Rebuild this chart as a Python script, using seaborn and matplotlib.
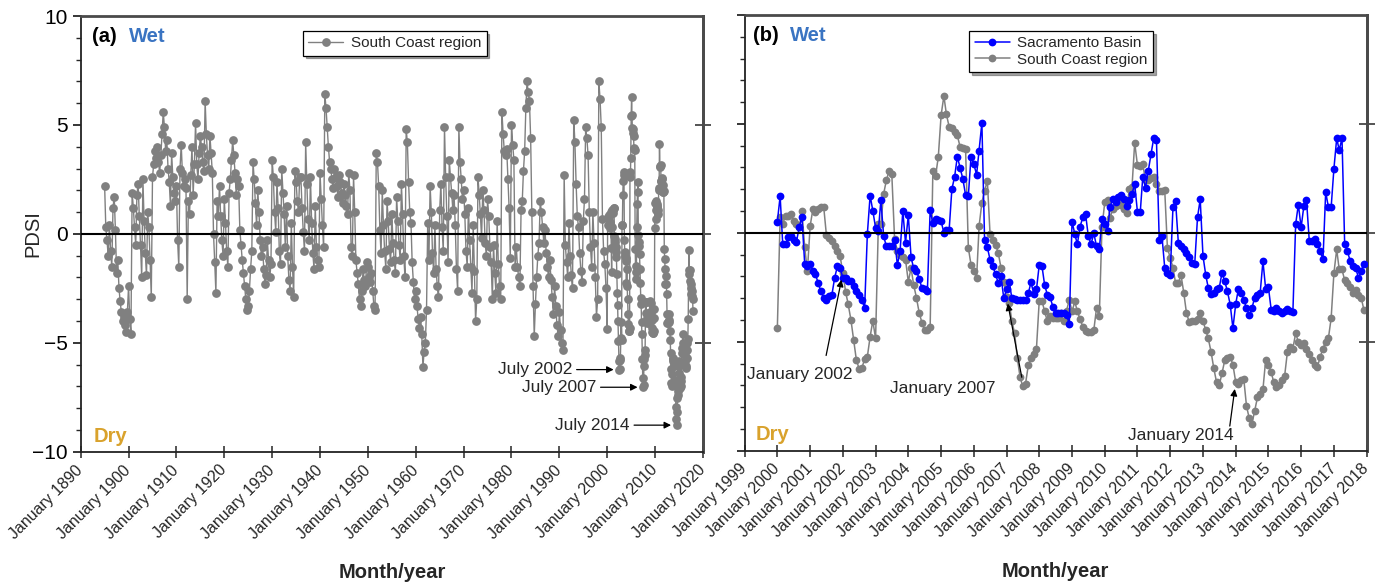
import numpy as np
import pandas as pd
import matplotlib
matplotlib.use("Agg")
import matplotlib.pyplot as plt
import matplotlib.dates as mdates
from matplotlib.ticker import MultipleLocator, NullLocator, FixedLocator
import seaborn as sns

# ---------------- data (PDSI values) ----------------
# South Coast region, 1895-1999, four readings per year (Jan, Apr, Jul, Oct)
sc_quarterly_1895_1999 = [
    2.2, 0.3, -0.3, -1.0,   0.4, -0.8, -1.5, 1.2,   1.7, 0.2, -1.8, -1.2,
    -2.5, -3.1, -3.6, -4.0,  -3.8, -4.2, -4.5, -3.6,  -2.4, -3.9, -4.6, 1.9,
    1.2, 0.3, -0.5, 1.8,   2.3, 0.8, -0.5, -2.0,   2.5, 0.6, -0.9, -1.9,
    1.0, 0.3, -1.2, -2.9,   2.6, 3.2, 3.8, 3.5,   4.0, 3.3, 2.8, 3.6,
    4.6, 5.6, 4.9, 3.8,   4.3, 3.0, 2.4, 1.3,   3.7, 2.6, 1.9, 1.5,
    2.2, -0.3, -1.5, 3.0,   4.1, 2.8, 2.2, 2.5,   2.1, -3.0, 1.5, 0.9,
    2.7, 4.0, 1.8, 3.2,   5.1, 3.2, 2.5, 3.7,   4.5, 4.0, 3.3, 2.9,
    6.1, 4.6, 3.6, 3.0,   4.5, 3.7, 2.8, 0.0,   -1.3, -2.7, 1.5, 0.8,
    2.2, 0.8, -0.3, -1.0,   1.6, 0.5, -0.8, -1.5,   1.9, 2.5, 3.4, 4.3,
    3.6, 2.8, 1.8, 2.5,   2.2, 0.2, -0.5, -1.2,   -1.8, -2.4, -3.0, -3.5,
    -3.3, -2.6, -1.6, -0.8,   3.3, 2.5, 1.4, 0.4,   2.0, 1.0, -0.3, -1.0,
    -0.6, -1.6, -2.3, -1.9,   -0.3, -1.2, -2.0, -1.4,   3.4, 2.6, 1.0, 0.1,
    2.4, 1.2, -0.8, -1.4,   3.0, 1.9, 0.9, -0.6,   1.3, -1.0, -2.1, -2.6,
    0.5, -1.5, -2.9, 2.9,   2.4, 1.5, 1.0, 2.6,   2.6, 1.2, 0.1, -0.8,
    4.2, 2.3, 0.7, -0.3,   2.6, 0.5, -0.9, -1.6,   1.3, -0.6, -1.2, -1.5,
    2.8, 1.6, 0.4, -0.6,   6.4, 5.8, 4.9, 4.0,   3.3, 3.0, 2.5, 2.1,
    3.0, 2.6, 2.2, 1.7,   2.7, 2.4, 1.9, 1.4,   2.3, 1.8, 1.3, 0.9,
    2.8, 2.0, -0.6, -1.0,   2.7, 1.0, -1.2, -1.8,   -2.3, -3.0, -3.3, -2.6,
    -1.6, -2.1, -2.4, -1.3,   -1.5, -2.0, -2.2, -1.8,   -2.6, -3.3, -3.5, 3.7,
    3.3, 2.2, 0.2, -0.9,   2.0, 0.4, -0.8, -1.6,   1.5, 0.6, -0.7, -1.3,
    0.9, -0.4, -1.2, -1.8,   1.7, 0.6, -0.5, -1.2,   2.3, 0.9, -1.0, -2.0,
    4.8, 4.2, 2.4, 1.0,   0.5, -1.3, -2.2, -3.0,   -2.6, -3.3, -3.9, -4.3,
    -3.8, -4.6, -6.1, -5.4,   -5.0, -3.5, 0.5, -1.2,   2.2, 1.0, -0.9, -1.8,
    0.4, -1.6, -2.4, -2.9,   1.1, 2.3, 0.3, -0.8,   4.9, 2.6, 0.8, -1.3,
    3.4, 2.6, 1.9, 1.1,   1.8, 0.4, -1.6, -2.6,   4.9, 3.3, 2.5, 1.6,
    2.0, 0.9, -0.8, -1.5,   1.2, -0.3, -1.5, -2.7,   0.4, -1.7, -4.0, -3.0,
    2.6, 1.8, 0.9, -0.2,   2.0, 1.1, -0.4, -1.0,   1.6, 0.8, -0.6, -1.3,
    -3.0, -0.5, -1.8, -2.7,   0.6, -1.4, -2.4, -3.0,   5.6, 4.6, 3.8, 3.6,
    3.9, 2.5, 1.2, -1.1,   5.0, 4.1, 3.4, -1.5,   -0.6, -1.5, -2.0, -2.4,
    1.1, 1.5, 2.9, 3.8,   5.8, 7.0, 6.5, 6.1,   4.4, 1.0, -2.4, -4.7,
    -3.2, -2.0, -1.0, -0.4,   1.5, 1.0, 0.3, -0.4,   0.2, -0.9, -1.5, -2.0,
    -1.2, -2.1, -2.9, -3.7,   -2.4, -3.3, -4.2, -4.7,   -3.6, -4.4, -5.0, -5.35,
    2.7, -0.5, -1.3, -2.0,   0.5, -1.0, -1.9, -2.5,   5.25, 4.2, 2.3, 0.8,
    0.3, -0.9, -1.7, -2.2,   0.6, 1.6, 4.9, 4.4,   3.6, 1.0, -0.6, -1.5,
    1.0, -0.4, -2.0, -3.8,   -3.0, 7.0, 6.2, 4.9,   0.7, -0.8, -1.4, -2.5,
]

# South Coast region, monthly Jan 2000 - Dec 2017
sc_monthly_2000_2017 = [
    -4.35, 0.71, 0.4, 0.79, 0.79, 0.86, 0.56, 0.4, 0.25, 0.99, -0.65, -1.76,
    0.32, 1.1, 0.94, 1.1, 1.17, 1.2, -0.09, -0.22, -0.37, -0.6, -0.83, -1.06,
    -1.84, -2.72, -3.27, -4.0, -4.92, -5.85, -6.23, -6.2, -5.8, -5.69, -4.77, -4.04,
    -4.85, 0.4, 0.4, 1.79, 2.41, 2.84, 2.69, -0.29, -0.83, -1.0, -1.1, -1.23,
    -2.24, -1.62, -2.39, -2.98, -3.66, -4.12, -4.48, -4.48, -4.32, 2.85, 2.62, 3.5,
    5.4, 6.28, 5.45, 4.86, 4.81, 4.63, 4.48, 3.94, 3.9, 3.86, -0.69, -1.47,
    -1.74, -2.08, 0.31, 1.39, 1.93, 2.39, -0.05, -0.35, -0.54, -0.93, -1.62, -2.24,
    -2.93, -3.24, -4.04, -4.61, -5.74, -6.62, -7.04, -6.93, -6.08, -5.74, -5.54, -5.31,
    -3.12, -3.12, -3.61, -4.07, -3.84, -3.92, -3.92, -3.92, -3.69, -4.07, -3.58, -3.07,
    -3.61, -3.15, -3.61, -3.95, -4.31, -4.51, -4.57, -4.54, -4.46, -3.46, -3.84, 0.25,
    1.4, 1.51, 0.68, 1.1, 1.25, 1.36, 1.3, 1.1, 0.9, 2.02, 2.1, 4.14,
    3.1, 3.06, 3.15, 2.41, 2.44, 2.53, 2.56, 2.25, 1.91, 1.94, 1.98, -0.68,
    -1.14, -1.6, -2.3, -2.3, -1.94, -2.76, -3.69, -4.1, -4.07, -4.04, -3.95, -3.69,
    -4.04, -4.46, -4.85, -5.46, -6.2, -6.85, -7.0, -6.45, -5.85, -5.74, -5.69, -6.05,
    -6.85, -6.93, -6.77, -6.7, -7.93, -8.52, -8.78, -8.17, -7.55, -7.39, -7.19, -5.85,
    -6.08, -6.39, -6.85, -7.08, -6.98, -6.77, -6.57, -5.46, -5.23, -5.31, -4.61, -5.0,
    -5.15, -5.08, -5.31, -5.54, -5.85, -6.08, -6.16, -5.69, -5.31, -5.0, -4.82, -3.92,
    -1.84, -0.76, -1.68, -1.68, -2.18, -2.3, -2.5, -2.76, -2.61, -2.84, -2.97, -3.53,
]

# Sacramento Basin, monthly Jan 2000 - Dec 2017
sac_monthly_2000_2017 = [
    0.52, 1.68, -0.52, -0.52, -0.2, -0.15, -0.35, -0.4, 0.25, 0.74, -1.42, -1.53,
    -1.42, -1.76, -1.91, -2.3, -2.69, -2.99, -3.07, -2.92, -2.84, -2.07, -1.53, -1.6,
    -2.07, -2.07, -2.22, -2.22, -2.45, -2.65, -2.84, -3.1, -3.43, -0.06, 1.71, 1.02,
    0.23, 0.08, 1.5, -0.15, -0.62, -0.62, -0.62, -0.31, -1.47, -0.85, 1.0, -0.46,
    0.82, -1.13, -1.62, -1.74, -2.11, -2.52, -2.58, -2.67, 1.03, 0.46, 0.62, 0.6,
    0.54, 0.0, 0.11, 0.15, 2.0, 2.58, 3.5, 2.98, 2.47, 1.74, 1.7, 3.5,
    3.16, 2.67, 3.78, 5.05, -0.31, -0.66, -1.23, -1.54, -1.9, -2.31, -2.0, -3.0,
    -2.6, -2.24, -3.0, -3.05, -3.1, -3.1, -3.1, -3.1, -2.78, -2.27, -2.8, -2.6,
    -1.47, -1.54, -2.39, -2.85, -2.95, -3.39, -3.7, -3.7, -3.66, -3.7, -3.75, -4.2,
    0.52, -0.06, -0.52, 0.29, 0.71, 0.86, -0.14, -0.52, -0.03, -0.6, -0.76, 0.63,
    0.4, 0.09, 1.2, 1.56, 1.4, 1.64, 1.74, 1.56, 1.25, 1.5, 1.79, 2.25,
    0.94, 0.94, 2.56, 2.07, 2.84, 3.61, 4.34, 4.26, -0.34, -0.14, -1.6, -1.84,
    -1.95, 1.17, 1.45, -0.45, -0.6, -0.76, -0.91, -1.11, -1.37, -1.42, 0.71, 1.54,
    -1.06, -1.94, -2.53, -2.81, -2.76, -2.56, -2.53, -1.84, -2.22, -2.69, -3.3, -4.38,
    -3.27, -2.56, -2.76, -3.07, -3.46, -3.77, -3.46, -2.97, -2.84, -2.76, -1.3, -2.56,
    -2.5, -3.53, -3.58, -3.46, -3.61, -3.66, -3.6, -3.5, -3.6, -3.65, 0.4, 1.3,
    0.25, 1.25, 1.51, -0.37, -0.37, -0.29, -0.49, -0.83, -1.22, 1.87, 1.17, 1.17,
    2.95, 4.34, 3.8, 4.34, -0.52, -0.83, -1.3, -1.53, -1.6, -2.07, -1.76, -1.42,
]

series_labels = ["Sacramento Basin", "South Coast region"]
annot_a = ["July 2002", "July 2007", "July 2014"]
annot_a_dates = ["2002-07-01", "2007-07-01", "2014-07-01"]
annot_b = ["January 2002", "January 2007", "January 2014"]
annot_b_dates = ["2002-01-01", "2007-01-01", "2014-01-01"]

# ---------------- frames ----------------
dates_q = pd.date_range("1895-01-01", periods=len(sc_quarterly_1895_1999), freq="3MS")
dates_m = pd.date_range("2000-01-01", periods=len(sc_monthly_2000_2017), freq="MS")
df_a = pd.DataFrame({
    "date": list(dates_q) + list(dates_m),
    "pdsi": sc_quarterly_1895_1999 + sc_monthly_2000_2017,
})
df_sc = pd.DataFrame({"date": dates_m, "pdsi": sc_monthly_2000_2017})
df_sac = pd.DataFrame({"date": dates_m, "pdsi": sac_monthly_2000_2017})

# ---------------- style ----------------
sns.set_theme(style="ticks")
plt.rcParams["font.family"] = ["Liberation Sans", "DejaVu Sans"]
plt.rcParams["axes.unicode_minus"] = True

GRAY = "#808080"
BLUE = "#0000ff"
WET = "#3a74c2"
DRY = "#d9a22c"

fig = plt.figure(figsize=(13.89, 5.84), dpi=100)
ax_a = fig.add_axes([0.0581, 0.2265, 0.448, 0.746])
ax_b = fig.add_axes([0.5361, 0.2283, 0.4478, 0.746])

base_kw = dict(marker="o", markeredgewidth=0, estimator=None, sort=False)

sns.lineplot(data=df_a, x="date", y="pdsi", ax=ax_a, color=GRAY,
             markeredgecolor=GRAY, markersize=6.3, linewidth=1.0,
             label=series_labels[1], **base_kw)
sns.lineplot(data=df_sc, x="date", y="pdsi", ax=ax_b, color=GRAY,
             markeredgecolor=GRAY, markersize=5.6, linewidth=1.1,
             label=series_labels[1], zorder=2, **base_kw)
sns.lineplot(data=df_sac, x="date", y="pdsi", ax=ax_b, color=BLUE,
             markeredgecolor=BLUE, markersize=5.6, linewidth=1.1,
             label=series_labels[0], zorder=3, **base_kw)

for ax in (ax_a, ax_b):
    ax.axhline(0, color="black", lw=1.5, zorder=5)
    ax.set_ylim(-10, 10)
    ax.yaxis.set_major_locator(MultipleLocator(5))
    ax.yaxis.set_minor_locator(MultipleLocator(1))
    ax.tick_params(axis="y", which="major", direction="out", length=6, width=1.1,
                   labelsize=15, colors="black")
    ax.tick_params(axis="y", which="minor", direction="out", length=3.5, width=1)
    ax.tick_params(axis="x", which="major", direction="inout", length=9, width=1.1,
                   labelsize=11.5, pad=7)
    for s in ("left", "bottom"):
        ax.spines[s].set_color("#222222")
        ax.spines[s].set_linewidth(1.3)
    for s in ("top", "right"):
        ax.spines[s].set_color("#4a4a4a")
        ax.spines[s].set_linewidth(2.0)
    sec = ax.secondary_yaxis("right")
    sec.yaxis.set_major_locator(FixedLocator([-5, 0, 5]))
    sec.yaxis.set_minor_locator(NullLocator())
    sec.tick_params(direction="inout", length=12, width=1.1, labelright=False)
    sec.spines["right"].set_color("#4a4a4a")
    sec.spines["right"].set_linewidth(2.0)
    ax.set_xlabel("Month/year", fontsize=14.5, fontweight="bold")
    ax.xaxis.set_label_coords(0.5, -0.255)

ax_a.set_xlim(pd.Timestamp("1890-01-01"), pd.Timestamp("2020-01-01"))
ax_a.xaxis.set_major_locator(mdates.YearLocator(10))
ax_b.set_xlim(pd.Timestamp("1999-01-01"), pd.Timestamp("2018-01-01"))
ax_b.xaxis.set_major_locator(mdates.YearLocator(1))
for ax in (ax_a, ax_b):
    ax.xaxis.set_major_formatter(mdates.DateFormatter("%B %Y"))
    ax.xaxis.set_minor_locator(NullLocator())
    for lab in ax.get_xticklabels():
        lab.set_rotation(45)
        lab.set_ha("right")
        lab.set_va("center")
        lab.set_rotation_mode("anchor")

ax_a.set_ylabel("PDSI", fontsize=14.5)
ax_a.yaxis.set_label_coords(-0.062, 0.5)
ax_b.set_ylabel("")
ax_b.tick_params(axis="y", labelleft=False)

# panel labels
for ax, tag, x0, xw, xd in ((ax_a, "(a)", 0.018, 0.078, 0.021),
                            (ax_b, "(b)", 0.013, 0.073, 0.018)):
    ax.text(x0, 0.952, tag, transform=ax.transAxes, fontsize=14.5,
            fontweight="bold", va="center", ha="left", color="black")
    ax.text(xw, 0.952, "Wet", transform=ax.transAxes, fontsize=14.5,
            fontweight="bold", va="center", ha="left", color=WET)
    ax.text(xd, 0.036, "Dry", transform=ax.transAxes, fontsize=14.5,
            fontweight="bold", va="center", ha="left", color=DRY)

# legends
leg_kw = dict(loc="upper left", frameon=True, fancybox=False, shadow=True,
              edgecolor="black", fontsize=11, handlelength=2.3, borderpad=0.35,
              labelspacing=0.15, handletextpad=0.5, borderaxespad=0)
la = ax_a.legend(bbox_to_anchor=(0.357, 0.966), **leg_kw)
h, l = ax_b.get_legend_handles_labels()
order = [l.index(series_labels[0]), l.index(series_labels[1])]
lb = ax_b.legend([h[i] for i in order], [l[i] for i in order],
                 bbox_to_anchor=(0.361, 0.963), **leg_kw)
for lg in (la, lb):
    lg.get_frame().set_linewidth(0.9)
    lg.get_frame().set_alpha(1)
    lg.set_zorder(10)

# annotations panel (a)
sc_lookup = dict(zip(dates_m, sc_monthly_2000_2017))
arrow_kw = dict(arrowstyle="-|>", color="black", lw=0.9, mutation_scale=10)
for lab, d in zip(annot_a, annot_a_dates):
    ts = pd.Timestamp(d)
    ax_a.annotate(lab, xy=(mdates.date2num(ts), sc_lookup[ts]), xytext=(-34, 0),
                  textcoords="offset points", ha="right", va="center",
                  fontsize=12.5, zorder=8,
                  arrowprops=dict(shrinkA=1, shrinkB=4, **arrow_kw))

# annotations panel (b): (text position, arrow tail)
b_text_pos = [("2000-09-08", -6.5), ("2005-01-22", -7.14), ("2012-05-04", -9.32)]
b_tail_pos = [("2001-06-28", -5.63), ("2007-06-20", -6.63), ("2013-10-27", -8.87)]
for lab, d, (tx, ty), (ax_, ay_) in zip(annot_b, annot_b_dates, b_text_pos, b_tail_pos):
    ts = pd.Timestamp(d)
    ax_b.text(mdates.date2num(pd.Timestamp(tx)), ty, lab, ha="center", va="center",
              fontsize=12.5, zorder=8)
    ax_b.annotate("", xy=(mdates.date2num(ts), sc_lookup[ts]),
                  xytext=(mdates.date2num(pd.Timestamp(ax_)), ay_),
                  textcoords="data", zorder=8,
                  arrowprops=dict(shrinkA=0, shrinkB=5, **arrow_kw))

fig.savefig("out.png", dpi=100, facecolor="white")
